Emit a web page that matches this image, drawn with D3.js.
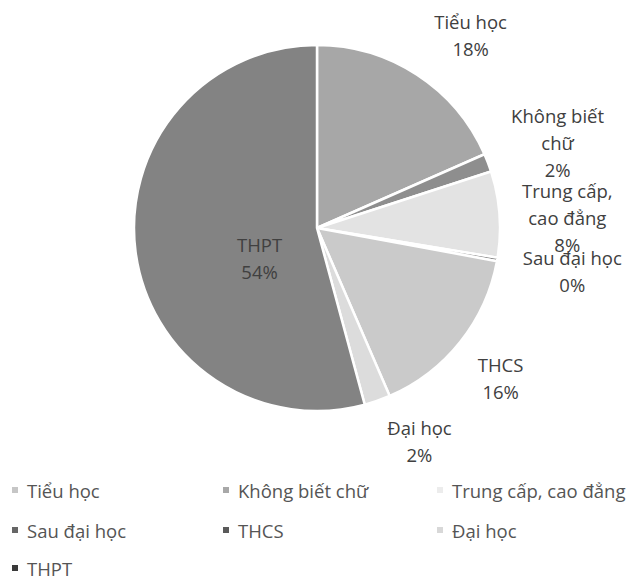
<!DOCTYPE html>
<html lang="vi">
 <head>
 <meta charset="UTF-8">
        <title>Trình độ học vấn</title>
        <script type="text/javascript" src="https://cdn.jsdelivr.net/npm/d3@7/dist/d3.min.js"></script>
        <style>
          body { margin: 0; background: #fff; }
          text { font-family: "Open Sans", "Noto Sans", sans-serif; }
        </style>
 </head>

 <body>
        <script type="text/javascript">

          // data, clockwise from 12 o'clock
          var categories = ["Tiểu học", "Không biết chữ", "Trung cấp, cao đẳng", "Sau đại học", "THCS", "Đại học", "THPT"];
          var percents   = [18.4, 1.6, 7.6, 0.3, 15.6, 2.3, 54.2];
          // how each slice label wraps
          var labelLines = [["Tiểu học"], ["Không biết", "chữ"], ["Trung cấp,", "cao đẳng"], ["Sau đại học"], ["THCS"], ["Đại học"], ["THPT"]];

          var sliceColors  = ["#a7a7a7", "#8e8e8e", "#e3e3e3", "#7c7c7c", "#cacaca", "#dcdcdc", "#838383"];
          var legendColors = ["#c6c6c6", "#a8a8a8", "#ececec", "#666666", "#5a5a5a", "#d8d8d8", "#3a3a3a"];

          var width = 639, height = 580;
          var cx = 317, cy = 228, radius = 183;
          var lineH = 27;
          var fontSize = "18.5px";

          // label nudges from the default spot (outside: r+67, inside: 64px)
          var nudge = [[17, 16], [7, 4], [1, 8], [9, 0], [-12, -6], [20, -23], [6, 22]];

          var svg = d3.select("body")
                      .append("svg")
                      .attr("width", width)
                      .attr("height", height);

          var color = d3.scaleOrdinal().domain(categories).range(sliceColors);
          var legendColor = d3.scaleOrdinal().domain(categories).range(legendColors);

          var pie = d3.pie().sort(null).value( (d, i) => percents[i] );
          var arcs = pie(categories);

          var arc = d3.arc().innerRadius(0).outerRadius(radius);
          var outerLabel = d3.arc().innerRadius(radius + 67).outerRadius(radius + 67);
          var innerLabel = d3.arc().innerRadius(64).outerRadius(64);

          var g = svg.append("g")
                     .attr("transform", "translate(" + cx + "," + cy + ")");

          g.selectAll("path")
           .data(arcs)
           .enter()
           .append("path")
           .attr("d", arc)
           .style("fill", (d) => color(d.data))
           .style("stroke", "#fff")
           .style("stroke-width", 2.5)
           .style("stroke-linejoin", "round");

          var labels = g.selectAll("text.lbl")
                        .data(arcs)
                        .enter()
                        .append("text")
                        .attr("class", "lbl")
                        .attr("text-anchor", "middle")
                        .style("font-size", fontSize)
                        .style("fill", "#404040")
                        .attr("transform", function(d, i) {
                          var p = (d.data == "THPT" ? innerLabel : outerLabel).centroid(d);
                          return "translate(" + (p[0] + nudge[i][0]) + "," + (p[1] + nudge[i][1]) + ")";
                        });

          labels.each(function(d, i) {
            var lines = labelLines[i].concat([Math.round(percents[i]) + "%"]);
            var top = -(lines.length - 1) * lineH / 2;
            d3.select(this).selectAll("tspan")
              .data(lines)
              .enter()
              .append("tspan")
              .attr("x", 0)
              .attr("y", (t, j) => top + j * lineH)
              .attr("dominant-baseline", "central")
              .text((t) => t);
          });

          // legend, three columns
          var colX = [12, 223, 437];
          var rowY = [490, 530, 568];

          var items = svg.selectAll("g.leg")
                         .data(categories)
                         .enter()
                         .append("g")
                         .attr("class", "leg")
                         .attr("transform", (d, i) => "translate(" + colX[i % 3] + "," + rowY[Math.floor(i / 3)] + ")");

          items.append("rect")
               .attr("x", 0)
               .attr("y", -3)
               .attr("width", 6)
               .attr("height", 6)
               .style("fill", (d) => legendColor(d));

          items.append("text")
               .attr("x", 15)
               .attr("y", 0)
               .attr("dominant-baseline", "central")
               .style("font-size", fontSize)
               .style("fill", "#555")
               .text((d) => d);

        </script>
    </body>
</html>
